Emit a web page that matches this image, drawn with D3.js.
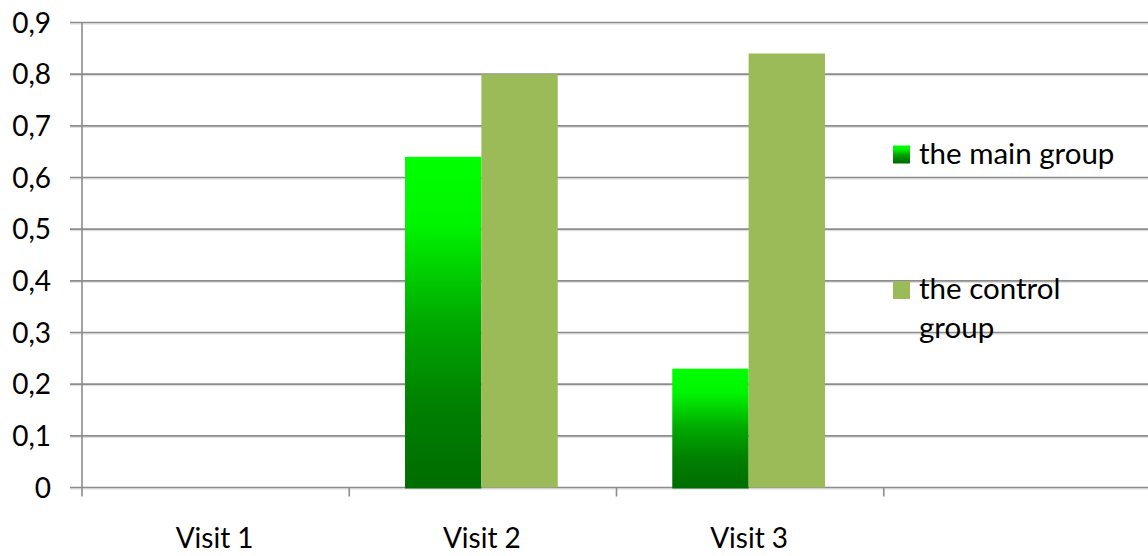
<!DOCTYPE html>
<html>
<head>
<meta charset="utf-8">
<script src="https://cdn.jsdelivr.net/npm/d3@7"></script>
<style>
  html, body { margin: 0; padding: 0; background: #fff; }
  svg { display: block; }
  text { font-family: Lato, "Open Sans", sans-serif; fill: #000; }
</style>
</head>
<body>
<svg id="chart" width="1148" height="556"></svg>
<script>
// Chart data
const categories = ["Visit 1", "Visit 2", "Visit 3", ""];
const seriesNames = ["the main group", "the control group"];
const mainGroup = [null, 0.64, 0.23, null];
const controlGroup = [null, 0.80, 0.84, null];
const yTicks = [0, 0.1, 0.2, 0.3, 0.4, 0.5, 0.6, 0.7, 0.8, 0.9];

const svg = d3.select("#chart");
const W = 1148, H = 556;
const plotLeft = 82, plotRight = 1151, plotTop = 22.5, plotBottom = 487.5;

const x = d3.scaleBand().domain(categories).range([plotLeft, plotRight]).paddingInner(0).paddingOuter(0);
const y = d3.scaleLinear().domain([0, 0.9]).range([plotBottom, plotTop]);

// Bars: gap of 150% of bar width between groups
const barW = x.bandwidth() / 3.5;
const xs = d3.scaleBand().domain(["main", "control"]).range([0, barW * 2]);
const groupOffset = (x.bandwidth() - barW * 2) / 2 - 1.5;

const defs = svg.append("defs");
const grad = defs.append("linearGradient")
  .attr("id", "mainGrad").attr("x1", 0).attr("y1", 0).attr("x2", 0).attr("y2", 1);
[[0, "#00ff00"], [0.2, "#00f500"], [0.5, "#00a800"], [0.75, "#008000"], [1, "#006c00"]]
  .forEach(([o, c]) => grad.append("stop").attr("offset", o).attr("stop-color", c));

// Horizontal gridlines
const fmt = v => d3.format(".1f")(v).replace(".", ",");
const grid = svg.append("g");
yTicks.forEach(t => {
  grid.append("line").attr("x1", plotLeft - 12).attr("x2", W)
    .attr("y1", y(t) + 1.5).attr("y2", y(t) + 1.5)
    .attr("stroke", "#dadada").attr("stroke-width", 1);
  grid.append("line").attr("x1", plotLeft - 12).attr("x2", W)
    .attr("y1", y(t)).attr("y2", y(t))
    .attr("stroke", "#8c8c8c").attr("stroke-width", 1.6);
});

// Y axis labels
svg.append("g").selectAll("text").data(yTicks).join("text")
  .attr("x", 51).attr("y", d => y(d)).attr("dy", "0.36em")
  .attr("text-anchor", "end").attr("font-size", 28)
  .text(d => d === 0 ? "0" : fmt(d));

// Vertical axis line
svg.append("line").attr("x1", plotLeft).attr("x2", plotLeft)
  .attr("y1", plotTop - 0.5).attr("y2", plotBottom + 9)
  .attr("stroke", "#8c8c8c").attr("stroke-width", 1.6);

// Category ticks
categories.forEach((c, i) => {
  if (i === 0) return;
  const tx = x(c);
  svg.append("line").attr("x1", tx).attr("x2", tx)
    .attr("y1", plotBottom).attr("y2", plotBottom + 9)
    .attr("stroke", "#8c8c8c").attr("stroke-width", 1.6);
});

// Bars
const bars = svg.append("g");
categories.forEach((c, i) => {
  const gx = x(c) + groupOffset;
  if (mainGroup[i] != null) {
    bars.append("rect").attr("x", gx + xs("main")).attr("width", xs.bandwidth())
      .attr("y", y(mainGroup[i])).attr("height", y(0) - y(mainGroup[i]) + 1)
      .attr("fill", "url(#mainGrad)");
  }
  if (controlGroup[i] != null) {
    bars.append("rect").attr("x", gx + xs("control")).attr("width", xs.bandwidth())
      .attr("y", y(controlGroup[i])).attr("height", y(0) - y(controlGroup[i]))
      .attr("fill", "#9bbb59");
  }
});

// Category labels
svg.append("g").selectAll("text").data(categories).join("text")
  .attr("x", d => x(d) + x.bandwidth() / 2 - 1)
  .attr("y", 548).attr("text-anchor", "middle").attr("font-size", 28)
  .text(d => d);

// Legend
const legend = svg.append("g");
legend.append("rect").attr("x", 893).attr("y", 145.5).attr("width", 17).attr("height", 18)
  .attr("fill", "url(#mainGrad)");
legend.append("text").attr("x", 919).attr("y", 164).attr("font-size", 29.5).text(seriesNames[0]);
legend.append("rect").attr("x", 893).attr("y", 281).attr("width", 17).attr("height", 18)
  .attr("fill", "#9bbb59");
const lt = legend.append("text").attr("x", 919).attr("y", 299).attr("font-size", 29.5);
lt.append("tspan").attr("x", 919).text("the control");
lt.append("tspan").attr("x", 919).attr("dy", 39).text("group");
</script>
</body>
</html>
